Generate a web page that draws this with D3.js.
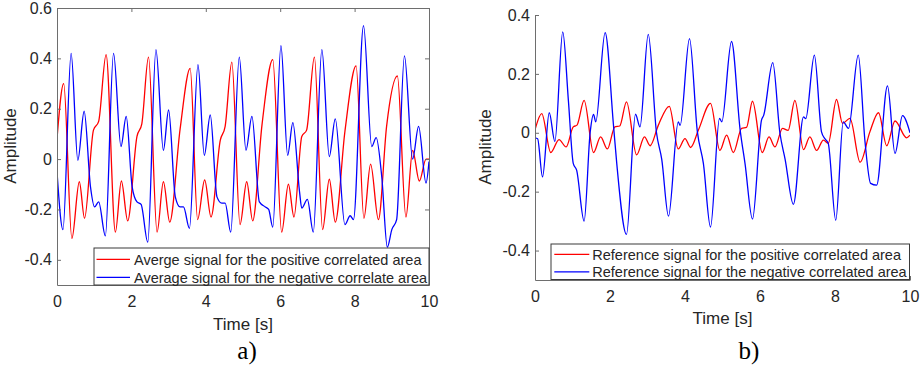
<!DOCTYPE html>
<html>
<head>
<meta charset="utf-8">
<script src="https://cdn.jsdelivr.net/npm/d3@7"></script>
<style>
  html, body { margin: 0; padding: 0; background: #fff; }
  svg { display: block; }
  text { font-family: "Liberation Sans", Arial, sans-serif; }
</style>
</head>
<body>
<svg id="chart" width="920" height="366"></svg>
<script>
// ---------- DATA ----------
const xTicks = [0, 2, 4, 6, 8, 10];
const xTickLabels = ["0", "2", "4", "6", "8", "10"];
const yTicksA = [-0.4, -0.2, 0, 0.2, 0.4, 0.6];
const yTickLabelsA = ["-0.4", "-0.2", "0", "0.2", "0.4", "0.6"];
const yTicksB = [-0.4, -0.2, 0, 0.2, 0.4];
const yTickLabelsB = ["-0.4", "-0.2", "0", "0.2", "0.4"];

const legendA = ["Averge signal for the positive correlated area", "Average signal for the negative correlate area"];
const legendB = ["Reference signal for the positive correlated area", "Reference signal for the negative correlated area"];
const xLabel = "Time [s]";
const yLabel = "Amplitude";
const panelLabels = ["a)", "b)"];

// Panel a) – positive correlated area (red)
const aPosT = [0,0.18,0.40,0.60,0.74,0.98,1.12,1.32,1.57,1.73,1.90,2.15,2.28,2.46,2.69,2.86,3.03,3.31,3.58,3.78,3.97,4.14,4.39,4.52,4.70,4.92,5.10,5.26,5.51,5.80,6.04,6.22,6.37,6.58,6.71,6.92,7.14,7.32,7.48,7.74,8.04,8.25,8.43,8.64,8.86,9.15,9.38,9.56,9.74,9.92,10];
const aPosV = [0.08,0.30,-0.315,-0.09,-0.235,0.115,0.15,0.415,-0.29,-0.087,-0.245,0.09,0.14,0.405,-0.29,-0.09,-0.25,0.12,0.36,-0.24,-0.083,-0.23,0.075,0.13,0.385,-0.26,-0.09,-0.245,0.135,0.395,-0.29,-0.10,-0.23,0.09,0.115,0.405,-0.28,-0.08,-0.25,0.11,0.37,-0.235,-0.02,-0.24,0.13,0.33,-0.23,0.035,-0.087,0.0,0.0];
// Panel a) – negative correlated area (blue)
const aNegT = [0,0.16,0.38,0.56,0.73,0.90,1.01,1.12,1.30,1.52,1.72,1.86,2.02,2.15,2.26,2.44,2.66,2.86,3.00,3.18,3.31,3.40,3.56,3.79,3.96,4.12,4.30,4.43,4.52,4.67,4.90,5.08,5.24,5.44,5.60,5.69,5.80,6.02,6.20,6.34,6.52,6.58,6.73,6.89,7.12,7.32,7.48,7.74,7.88,7.97,8.24,8.46,8.58,8.73,8.88,9.00,9.13,9.34,9.56,9.72,9.92,10];
const aNegV = [-0.05,-0.28,0.42,-0.005,0.19,-0.11,-0.19,-0.17,-0.305,0.42,0.05,0.17,-0.11,-0.17,-0.18,-0.33,0.435,0.035,0.195,-0.15,-0.19,-0.19,-0.275,0.375,0.015,0.175,-0.15,-0.175,-0.175,-0.29,0.405,0.035,0.17,-0.17,-0.19,-0.2,-0.27,0.45,0.015,0.145,-0.13,-0.195,-0.16,-0.29,0.435,0.01,0.16,-0.26,-0.225,-0.24,0.53,0.05,0.085,-0.07,-0.35,-0.28,-0.24,0.41,0.0,0.13,-0.095,-0.01];

// Panel b) – positive correlated area (red)
const bPosT = [0,0.18,0.42,0.64,0.83,1.02,1.12,1.31,1.56,1.75,1.93,2.13,2.26,2.44,2.71,2.92,3.07,3.29,3.58,3.82,4.00,4.15,4.36,4.68,4.93,5.11,5.29,5.51,5.64,5.80,6.06,6.24,6.40,6.60,6.75,6.93,7.16,7.33,7.51,7.69,7.82,8.04,8.20,8.40,8.67,8.93,9.16,9.38,9.60,9.91,10];
const bPosV = [0.01,0.065,-0.067,-0.023,-0.048,0.02,0.026,0.11,-0.067,-0.014,-0.055,0.02,0.023,0.105,-0.075,-0.014,-0.044,0.026,0.09,-0.055,-0.02,-0.05,0.01,0.1,-0.06,-0.008,-0.067,0.015,0.018,0.107,-0.067,-0.014,-0.048,0.015,0.008,0.11,-0.057,-0.014,-0.06,-0.025,-0.036,0.113,0.032,0.049,-0.1,0.003,0.068,-0.044,0.04,-0.017,-0.008];
// Panel b) – negative correlated area (blue)
const bNegT = [0,0.07,0.20,0.38,0.53,0.74,0.89,1.02,1.11,1.31,1.47,1.56,1.62,1.87,2.09,2.18,2.44,2.68,2.80,3.02,3.24,3.38,3.56,3.82,3.87,4.12,4.33,4.49,4.68,4.92,4.98,5.24,5.47,5.60,5.80,6.04,6.10,6.34,6.53,6.67,6.89,7.16,7.22,7.45,7.64,7.73,7.82,8.02,8.22,8.36,8.62,8.80,8.95,9.11,9.40,9.60,9.80,10];
const bNegV = [-0.017,-0.02,-0.15,0.068,-0.03,0.343,0.11,-0.104,-0.127,-0.30,0.0,0.062,0.037,0.34,0.03,-0.104,-0.345,0.063,0.02,0.334,0.0,-0.09,-0.283,0.037,0.025,0.32,0.003,-0.104,-0.32,0.049,0.037,0.31,0.01,-0.104,-0.293,0.043,0.06,0.238,0.0,-0.09,-0.243,0.054,0.048,0.264,0.003,-0.02,-0.036,-0.297,0.037,0.015,0.264,-0.03,-0.172,-0.178,0.159,-0.07,0.058,0.0];

const seriesColors = ["#ff0000", "#0000ff"];

// ---------- DRAW ----------
const svg = d3.select("#chart");
const AXIS = "#6e6e6e";
const TXT = "#262626";

function pairs(t, v) {
  const n = Math.min(t.length, v.length);
  return d3.range(n).map(i => [t[i], v[i]]);
}

function panel(cfg) {
  const x = d3.scaleLinear().domain([0, 10]).range([cfg.left, cfg.right]);
  const y = d3.scaleLinear().domain(cfg.yDomain).range([cfg.bottom, cfg.top]);
  const g = svg.append("g");

  const clipId = "clip" + cfg.id;
  svg.append("clipPath").attr("id", clipId).append("rect")
    .attr("x", cfg.left).attr("y", cfg.top - 2)
    .attr("width", cfg.right - cfg.left).attr("height", cfg.bottom - cfg.top + 2);

  // series
  const line = d3.line().x(d => x(d[0])).y(d => y(d[1])).curve(d3.curveMonotoneX);
  cfg.series.forEach((s, i) => {
    g.append("path").datum(pairs(s[0], s[1]))
      .attr("clip-path", `url(#${clipId})`)
      .attr("fill", "none").attr("stroke", seriesColors[i])
      .attr("stroke-width", 1.3).attr("stroke-linejoin", "round")
      .attr("d", line);
  });

  // bottom axis
  const ax = g.append("g").attr("transform", `translate(0,${cfg.bottom})`)
    .call(d3.axisBottom(x).tickValues(xTicks).tickFormat((d, i) => xTickLabels[i])
      .tickSizeInner(-4).tickSizeOuter(0).tickPadding(10.5));
  // left axis
  const ay = g.append("g").attr("transform", `translate(${cfg.left},0)`)
    .call(d3.axisLeft(y).tickValues(cfg.yTicks).tickFormat((d, i) => cfg.yLabels[i])
      .tickSizeInner(-4).tickSizeOuter(0).tickPadding(5));
  [ax, ay].forEach(a => {
    a.select(".domain").attr("stroke", AXIS).attr("stroke-width", 1);
    a.selectAll(".tick line").attr("stroke", AXIS);
    a.selectAll(".tick text").attr("fill", TXT).style("font-size", "16px")
      .style("font-family", '"Liberation Sans", Arial, sans-serif');
  });

  if (cfg.box) {
    const at = g.append("g").attr("transform", `translate(0,${cfg.top})`)
      .call(d3.axisTop(x).tickValues(xTicks).tickFormat("").tickSizeInner(-4).tickSizeOuter(0));
    const ar = g.append("g").attr("transform", `translate(${cfg.right},0)`)
      .call(d3.axisRight(y).tickValues(cfg.yTicks).tickFormat("").tickSizeInner(-4).tickSizeOuter(0));
    [at, ar].forEach(a => {
      a.select(".domain").attr("stroke", AXIS).attr("stroke-width", 1);
      a.selectAll(".tick line").attr("stroke", AXIS);
    });
  }

  // axis titles
  g.append("text").attr("x", (cfg.left + cfg.right) / 2).attr("y", cfg.xTitleY)
    .attr("text-anchor", "middle").attr("fill", TXT).style("font-size", "17px").text(xLabel);
  g.append("text").attr("transform", `translate(${cfg.yTitleX},${cfg.yTitleCY}) rotate(-90)`)
    .attr("text-anchor", "middle").attr("fill", TXT).style("font-size", "17px").text(yLabel);

  // legend
  const L = cfg.legend;
  g.append("rect").attr("x", L.x0).attr("y", L.y0).attr("width", L.x1 - L.x0).attr("height", L.y1 - L.y0)
    .attr("fill", "#fff").attr("stroke", "#3a3a3a").attr("stroke-width", 1);
  cfg.legendText.forEach((t, i) => {
    const ry = L.rows[i];
    g.append("line").attr("x1", L.lx0).attr("x2", L.lx1).attr("y1", ry).attr("y2", ry)
      .attr("stroke", seriesColors[i]).attr("stroke-width", 1.3);
    g.append("text").attr("x", L.tx).attr("y", ry + 5.2).attr("fill", TXT)
      .style("font-size", "14.5px").text(t);
  });

  // panel label
  svg.append("text").attr("x", cfg.panelX).attr("y", 359).attr("text-anchor", "middle")
    .attr("fill", "#000").style("font-family", '"Liberation Serif", "Times New Roman", serif')
    .style("font-size", "25px").text(cfg.panelLabel);
}

panel({
  id: "a", left: 57, right: 429, top: 8, bottom: 285, yDomain: [-0.5, 0.6],
  yTicks: yTicksA, yLabels: yTickLabelsA, box: true,
  series: [[aPosT, aPosV], [aNegT, aNegV]],
  xTitleY: 329.5, yTitleX: 15.5, yTitleCY: 146,
  legend: { x0: 94, x1: 429, y0: 248, y1: 285, rows: [259.3, 277.3], lx0: 96.5, lx1: 130, tx: 134 },
  legendText: legendA, panelX: 247, panelLabel: panelLabels[0]
});

panel({
  id: "b", left: 535, right: 910, top: 15, bottom: 280, yDomain: [-0.5, 0.4],
  yTicks: yTicksB, yLabels: yTickLabelsB, box: false,
  series: [[bPosT, bPosV], [bNegT, bNegV]],
  xTitleY: 323.5, yTitleX: 491, yTitleCY: 147,
  legend: { x0: 551, x1: 909.5, y0: 244, y1: 279.5, rows: [254.3, 271.8], lx0: 554.3, lx1: 589.3, tx: 592.3 },
  legendText: legendB, panelX: 749, panelLabel: panelLabels[1]
});
</script>
</body>
</html>
